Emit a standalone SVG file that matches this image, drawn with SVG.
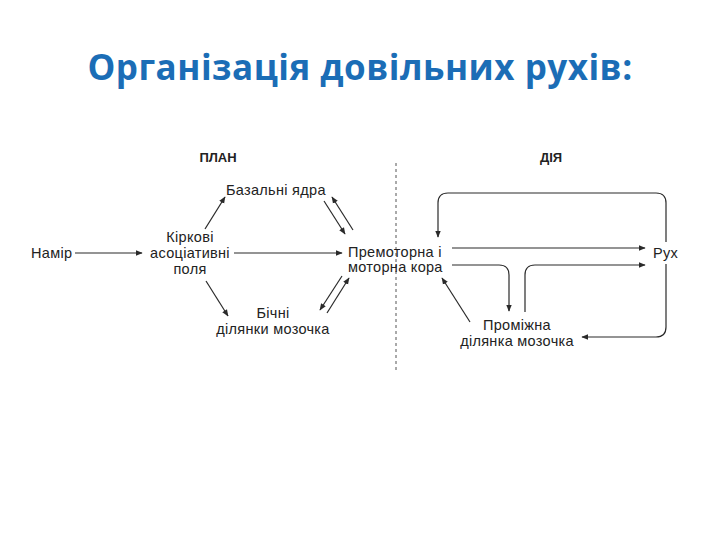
<svg xmlns="http://www.w3.org/2000/svg" width="720" height="540" viewBox="0 0 720 540">
<defs>
<marker id="ah" viewBox="0 0 10 10" refX="9" refY="5" markerWidth="7" markerHeight="7" orient="auto" markerUnits="userSpaceOnUse">
<path d="M0,1 L10,5 L0,9 Z" fill="#2a2a2a"/>
</marker>
<style>
.t{font-family:"Liberation Sans",Arial,sans-serif;font-size:14.5px;letter-spacing:0.3px;fill:#222}
.h{font-family:"Liberation Sans",Arial,sans-serif;font-size:13px;font-weight:bold;fill:#222}
.c{fill:none;stroke:#2a2a2a;stroke-width:1.2}
.title{font-family:"Open Sans","Liberation Sans",sans-serif;font-size:35px;letter-spacing:0.5px;font-weight:bold;fill:#1b6db6}
</style>
</defs>
<rect width="720" height="540" fill="#fff"/>
<text class="title" x="360" y="80" text-anchor="middle">Організація довільних рухів:</text>
<g id="headers">
<text class="h" x="218" y="162" text-anchor="middle">ПЛАН</text>
<text class="h" x="551" y="162" text-anchor="middle">ДІЯ</text>
<line x1="396" y1="163" x2="396" y2="372" stroke="#555" stroke-width="1" stroke-dasharray="3,3"/>
</g>
<g id="namir"><text class="t" x="31" y="258">Намір</text></g>
<g id="kirkovi">
<text class="t" x="190" y="242" text-anchor="middle">Кіркові</text>
<text class="t" x="190" y="258" text-anchor="middle">асоціативні</text>
<text class="t" x="190" y="274" text-anchor="middle">поля</text>
</g>
<g id="bazalni"><text class="t" x="226" y="195">Базальні ядра</text></g>
<g id="bichni">
<text class="t" x="273" y="318" text-anchor="middle">Бічні</text>
<text class="t" x="273" y="334" text-anchor="middle">ділянки мозочка</text>
</g>
<g id="premotorna">
<text class="t" x="348" y="256.5">Премоторна і</text>
<text class="t" x="348" y="272">моторна кора</text>
</g>
<g id="rukh"><text class="t" x="653" y="258">Рух</text></g>
<g id="promizhna">
<text class="t" x="517" y="330" text-anchor="middle">Проміжна</text>
<text class="t" x="517" y="346" text-anchor="middle">ділянка мозочка</text>
</g>
<g id="connectors" class="c" marker-end="url(#ah)">
<path class="c" d="M75,253 H142"/>
<path class="c" d="M234,253 H342"/>
<path class="c" d="M205,229 L225,197"/>
<path class="c" d="M206,281 L228,316"/>
<path class="c" d="M324,201 L345,234"/>
<path class="c" d="M353,230 L332,197"/>
<path class="c" d="M342,276 L320,310"/>
<path class="c" d="M327,313 L349,278"/>
<path class="c" d="M452,248 H645"/>
<path class="c" d="M666,242 V203 Q666,193 656,193 H448 Q438,193 438,203 V237"/>
<path class="c" d="M452,265 H499 Q509,265 509,275 V311"/>
<path class="c" d="M525,312 V275 Q525,265 535,265 H645"/>
<path class="c" d="M666,264 V327 Q666,337 656,337 H582"/>
<path class="c" d="M470,322 L442,278"/>
</g>
</svg>
